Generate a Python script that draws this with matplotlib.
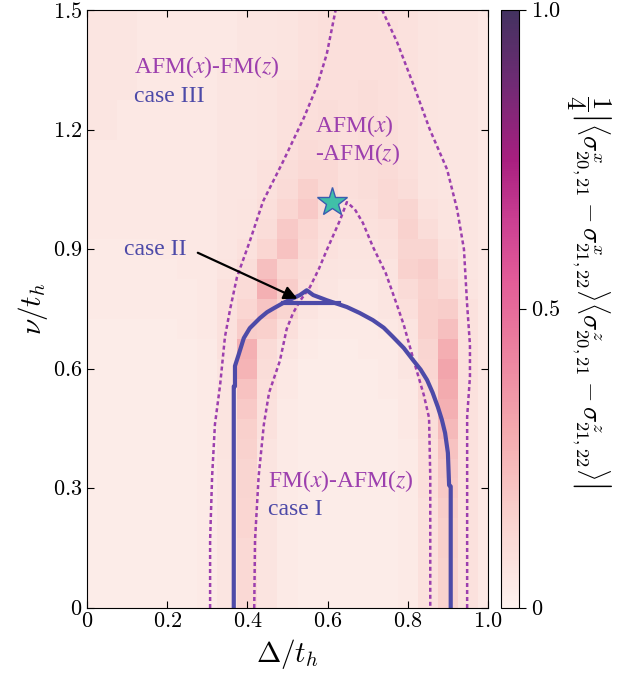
import numpy as np
import matplotlib
matplotlib.use("Agg")
import matplotlib.pyplot as plt
from matplotlib.colors import LinearSegmentedColormap
from matplotlib.ticker import FuncFormatter

plt.rcParams["font.family"] = ["Liberation Serif", "DejaVu Serif"]
plt.rcParams["mathtext.fontset"] = "cm"

# grid centres of the heat map
delta_vals = np.round(np.arange(0, 1.0001, 0.05), 2)
nu_vals = np.round(np.arange(0, 1.5001, 0.05), 2)

# heat map values (x100), one row per nu value from 0 to 1.5
heat_pct = [
    [3, 3, 3, 3, 3, 3, 4, 6, 12, 7, 4, 3, 3, 3, 3, 3, 4, 8, 15, 8, 5],
    [3, 3, 3, 3, 3, 3, 4, 6, 12, 7, 4, 3, 3, 3, 3, 3, 4, 8, 15, 8, 5],
    [3, 3, 3, 3, 3, 3, 4, 6, 12, 7, 4, 3, 3, 3, 3, 3, 4, 8, 15, 8, 5],
    [3, 3, 3, 3, 3, 3, 4, 6, 12, 7, 4, 3, 3, 3, 3, 3, 4, 8, 16, 8, 5],
    [3, 3, 3, 3, 3, 3, 4, 6, 13, 7, 4, 3, 3, 3, 3, 3, 4, 8, 16, 8, 5],
    [3, 3, 3, 3, 3, 3, 4, 6, 13, 7, 4, 3, 3, 3, 3, 3, 4, 8, 17, 8, 5],
    [3, 3, 3, 3, 3, 3, 4, 6, 14, 7, 4, 3, 3, 3, 3, 3, 4, 9, 18, 8, 5],
    [3, 3, 3, 3, 3, 3, 4, 6, 14, 7, 4, 3, 3, 3, 3, 3, 4, 9, 19, 8, 5],
    [3, 3, 3, 3, 3, 3, 4, 7, 15, 7, 4, 3, 3, 3, 3, 3, 4, 9, 21, 8, 5],
    [3, 3, 3, 3, 3, 3, 4, 7, 16, 8, 4, 3, 3, 3, 3, 3, 5, 10, 24, 8, 5],
    [3, 3, 3, 3, 3, 3, 4, 7, 18, 8, 4, 3, 3, 3, 3, 3, 5, 11, 27, 8, 5],
    [3, 3, 3, 3, 3, 3, 4, 7, 21, 9, 5, 3, 3, 3, 3, 4, 5, 12, 29, 8, 5],
    [3, 3, 3, 3, 3, 3, 4, 7, 26, 10, 5, 3, 3, 3, 3, 4, 6, 13, 31, 8, 5],
    [3, 3, 3, 3, 3, 3, 4, 8, 27, 11, 6, 4, 3, 3, 4, 4, 6, 14, 28, 8, 5],
    [3, 3, 3, 3, 3, 4, 5, 8, 17, 16, 9, 5, 4, 4, 4, 5, 7, 16, 22, 8, 5],
    [4, 4, 4, 4, 4, 4, 5, 8, 13, 20, 14, 7, 5, 5, 5, 6, 9, 16, 17, 8, 5],
    [4, 4, 4, 4, 4, 4, 5, 8, 11, 27, 17, 9, 6, 5, 5, 6, 11, 15, 12, 7, 5],
    [4, 4, 4, 4, 4, 5, 5, 7, 10, 22, 13, 10, 7, 6, 6, 7, 15, 17, 10, 6, 5],
    [4, 4, 4, 4, 5, 5, 5, 6, 8, 13, 21, 12, 8, 7, 7, 8, 14, 14, 8, 6, 5],
    [5, 5, 5, 5, 5, 5, 5, 6, 7, 10, 18, 13, 9, 8, 8, 9, 15, 10, 7, 6, 5],
    [5, 5, 5, 5, 5, 5, 5, 6, 7, 9, 13, 18, 11, 8, 9, 12, 14, 8, 7, 6, 5],
    [5, 5, 5, 5, 5, 5, 5, 6, 6, 8, 11, 16, 12, 9, 10, 12, 10, 7, 6, 6, 5],
    [5, 5, 5, 5, 5, 5, 5, 6, 6, 8, 10, 12, 12, 9, 10, 11, 9, 7, 6, 6, 5],
    [5, 5, 5, 5, 5, 5, 5, 6, 6, 7, 9, 11, 10, 9, 10, 10, 8, 7, 6, 6, 5],
    [6, 6, 5, 5, 5, 5, 5, 6, 6, 7, 8, 10, 10, 9, 10, 10, 8, 7, 6, 6, 5],
    [6, 6, 5, 5, 5, 5, 5, 6, 6, 7, 8, 9, 10, 9, 10, 9, 8, 7, 6, 6, 5],
    [6, 6, 6, 5, 5, 5, 5, 6, 6, 7, 8, 9, 9, 9, 10, 9, 8, 7, 6, 6, 5],
    [6, 6, 6, 5, 5, 5, 5, 6, 6, 7, 7, 8, 9, 9, 9, 9, 8, 7, 6, 6, 5],
    [6, 6, 6, 5, 5, 5, 5, 5, 6, 6, 7, 8, 9, 9, 9, 9, 8, 7, 6, 6, 5],
    [6, 6, 6, 5, 5, 5, 5, 5, 6, 6, 7, 8, 9, 9, 9, 9, 8, 7, 6, 6, 5],
    [6, 6, 6, 5, 5, 5, 5, 5, 6, 6, 7, 8, 9, 9, 9, 8, 8, 7, 6, 6, 5],
]

# dashed phase boundaries
outer_left_x = [0.307, 0.307, 0.312, 0.319, 0.332, 0.344, 0.357, 0.374, 0.406, 0.439, 0.489, 0.541, 0.574, 0.598, 0.620]
outer_left_y = [0.0, 0.17, 0.33, 0.46, 0.56, 0.68, 0.75, 0.83, 0.92, 1.02, 1.12, 1.23, 1.31, 1.39, 1.5]
outer_right_x = [0.948, 0.948, 0.948, 0.955, 0.955, 0.948, 0.940, 0.923, 0.898, 0.855, 0.815, 0.773, 0.736]
outer_right_y = [0.0, 0.25, 0.48, 0.58, 0.66, 0.76, 0.90, 1.0, 1.10, 1.20, 1.31, 1.42, 1.5]
inner_x = [0.417, 0.419, 0.428, 0.441, 0.454, 0.481, 0.498, 0.514, 0.531, 0.556, 0.578, 0.598, 0.631, 0.648,
           0.668, 0.688, 0.713, 0.745, 0.773, 0.790, 0.815, 0.840, 0.853, 0.856, 0.856, 0.856]
inner_y = [0.0, 0.17, 0.33, 0.46, 0.54, 0.62, 0.70, 0.74, 0.77, 0.805, 0.85, 0.898, 0.973, 1.018,
           1.0, 0.966, 0.906, 0.84, 0.76, 0.71, 0.62, 0.534, 0.477, 0.33, 0.17, 0.0]

# solid case I boundary
case1_x = [0.366, 0.366, 0.369, 0.369, 0.378, 0.391, 0.406, 0.431, 0.449, 0.466, 0.489, 0.531, 0.548, 0.564,
           0.598, 0.648, 0.680, 0.713, 0.740, 0.763, 0.790, 0.813, 0.832, 0.848, 0.862, 0.875, 0.885,
           0.893, 0.900, 0.903, 0.907, 0.907]
case1_y = [0.0, 0.556, 0.556, 0.607, 0.635, 0.677, 0.702, 0.727, 0.742, 0.752, 0.765, 0.785, 0.797, 0.785,
           0.772, 0.755, 0.740, 0.722, 0.703, 0.680, 0.652, 0.622, 0.598, 0.572, 0.540, 0.504, 0.472,
           0.439, 0.389, 0.308, 0.305, 0.0]
flat_x = [0.489, 0.628]
flat_y = [0.764, 0.764]

star_xy = (0.610, 1.019)
arrow_tail = (0.27, 0.894)
arrow_head = (0.531, 0.773)

purple = "#9c3fae"
blue = "#4d4aa8"

cmap = LinearSegmentedColormap.from_list("pinkpurple", [
    (0.0, "#fdf2ee"), (0.15, "#f9d2ce"), (0.3, "#f3a8ad"), (0.45, "#ea7b9d"),
    (0.55, "#e25b98"), (0.65, "#ca3f92"), (0.75, "#a81f80"), (0.88, "#6f2b74"),
    (1.0, "#433260")])

fig = plt.figure(figsize=(6.24, 6.86), dpi=100)
ax = fig.add_axes([87 / 624, 78 / 686, 401 / 624, 598 / 686])
cax = fig.add_axes([501 / 624, 78 / 686, 18 / 624, 598 / 686])

heat = np.array(heat_pct) / 100.0
mesh = ax.pcolormesh(delta_vals, nu_vals, heat, cmap=cmap, vmin=0, vmax=1, shading="nearest")

dash = (0, (1.6, 1.2))
ax.plot(outer_left_x, outer_left_y, color=purple, lw=1.8, ls=dash)
ax.plot(outer_right_x, outer_right_y, color=purple, lw=1.8, ls=dash)
ax.plot(inner_x, inner_y, color=purple, lw=1.8, ls=dash)

ax.plot(case1_x, case1_y, color=blue, lw=3)
ax.plot(flat_x, flat_y, color=blue, lw=3)

ax.plot(*star_xy, marker="*", ms=22, color="#40bfa8", mec="#3a5db0", mew=1.0)

ax.annotate("", xy=arrow_head, xytext=arrow_tail,
            arrowprops=dict(arrowstyle="-|>", color="black", lw=1.6, mutation_scale=20))

fs = 17
txt = dict(fontsize=fs, math_fontfamily="stix")
ax.text(0.116, 1.342, r"AFM($x$)-FM($z$)", color=purple, **txt)
ax.text(0.116, 1.27, "case III", color=blue, **txt)
ax.text(0.569, 1.195, r"AFM($x$)", color=purple, **txt)
ax.text(0.569, 1.124, r"-AFM($z$)", color=purple, **txt)
ax.text(0.092, 0.885, "case II", color=blue, **txt)
ax.text(0.452, 0.304, r"FM($x$)-AFM($z$)", color=purple, **txt)
ax.text(0.452, 0.233, "case I", color=blue, **txt)

ax.set_xlim(0, 1)
ax.set_ylim(0, 1.5)
ax.set_xticks([0, 0.2, 0.4, 0.6, 0.8, 1.0])
ax.set_yticks([0, 0.3, 0.6, 0.9, 1.2, 1.5])
fmt = FuncFormatter(lambda v, p: "$0$" if v == 0 else f"${v:.1f}$")
ax.xaxis.set_major_formatter(fmt)
ax.yaxis.set_major_formatter(fmt)
ax.tick_params(direction="in", top=True, right=True, length=5, labelsize=16)
ax.set_xlabel(r"$\Delta/t_h$", fontsize=21, labelpad=4)
ax.set_ylabel(r"$\nu/t_h$", fontsize=21, labelpad=2)

cb = fig.colorbar(mesh, cax=cax)
cb.set_ticks([0, 0.5, 1.0])
cb.set_ticklabels(["$0$", "$0.5$", "$1.0$"])
cb.ax.tick_params(labelsize=16, length=5)
cb.outline.set_linewidth(0.8)
cb.set_label(r"$\dfrac{1}{4}\left|\langle\sigma^x_{20,21}-\sigma^x_{21,22}\rangle"
             r"\langle\sigma^z_{20,21}-\sigma^z_{21,22}\rangle\right|$",
             rotation=270, fontsize=19, labelpad=40)
cb.ax.yaxis.set_label_coords(6.2, 0.53)

fig.savefig("out.png", dpi=100)
